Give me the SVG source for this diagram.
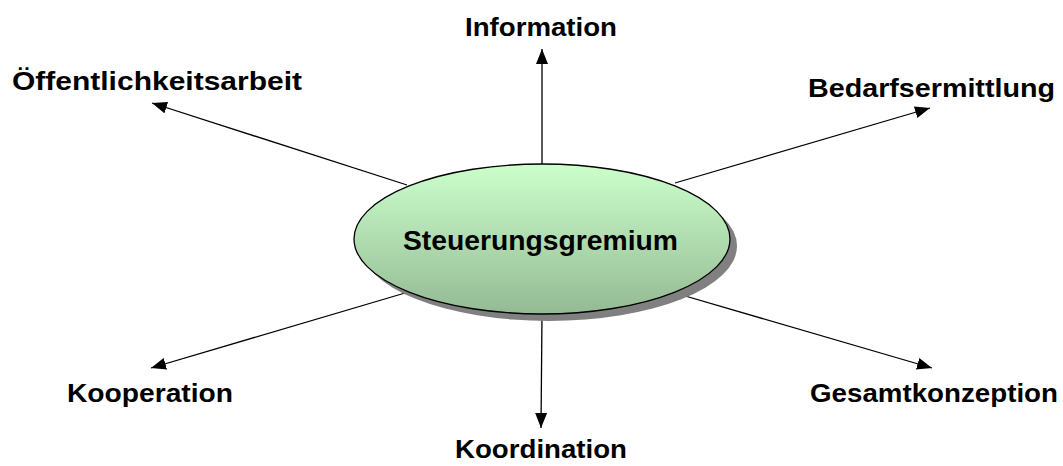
<svg xmlns="http://www.w3.org/2000/svg" width="1063" height="466" viewBox="0 0 1063 466">
<style>
.lbl{font-family:"Liberation Sans",Arial,sans-serif;font-weight:bold;font-size:25px;fill:#000}
.con{stroke:#000;stroke-width:1.3;fill:none;marker-end:url(#ah)}
</style>
<defs>
<marker id="ah" markerUnits="userSpaceOnUse" markerWidth="16" markerHeight="12" refX="15" refY="6" orient="auto" viewBox="0 0 16 12">
<path d="M0,0 L15,6 L0,12 z" fill="#000"/>
</marker>
<linearGradient id="g" x1="0" y1="0" x2="0" y2="1">
<stop offset="0" stop-color="#CCFFCC"/>
<stop offset="1" stop-color="#94BA94"/>
</linearGradient>
</defs>
<rect width="1063" height="466" fill="#fff"/>
<g id="connectors">
<line class="con" x1="542" y1="164" x2="542" y2="49"/>
<line class="con" x1="542" y1="314" x2="541" y2="428"/>
<line class="con" x1="407" y1="185" x2="152" y2="103"/>
<line class="con" x1="675" y1="183" x2="930" y2="108"/>
<line class="con" x1="405" y1="293" x2="151" y2="368"/>
<line class="con" x1="675" y1="293" x2="932" y2="368"/>
</g>
<g id="center">
<ellipse cx="549" cy="246" rx="188" ry="75" fill="#808080"/>
<ellipse cx="542" cy="239" rx="188" ry="75" fill="url(#g)" stroke="#000" stroke-width="1.3"/>
<text class="lbl" x="403" y="250" textLength="275" lengthAdjust="spacingAndGlyphs" style="font-size:27px">Steuerungsgremium</text>
</g>
<g id="information"><text class="lbl" x="465" y="36" textLength="152" lengthAdjust="spacingAndGlyphs">Information</text></g>
<g id="oeffentlichkeitsarbeit"><text class="lbl" x="12" y="90" textLength="290" lengthAdjust="spacingAndGlyphs">Öffentlichkeitsarbeit</text></g>
<g id="bedarfsermittlung"><text class="lbl" x="808" y="97" textLength="247" lengthAdjust="spacingAndGlyphs">Bedarfsermittlung</text></g>
<g id="kooperation"><text class="lbl" x="67" y="402" textLength="166" lengthAdjust="spacingAndGlyphs">Kooperation</text></g>
<g id="gesamtkonzeption"><text class="lbl" x="810" y="402" textLength="248" lengthAdjust="spacingAndGlyphs">Gesamtkonzeption</text></g>
<g id="koordination"><text class="lbl" x="455" y="458" textLength="172" lengthAdjust="spacingAndGlyphs">Koordination</text></g>
</svg>
